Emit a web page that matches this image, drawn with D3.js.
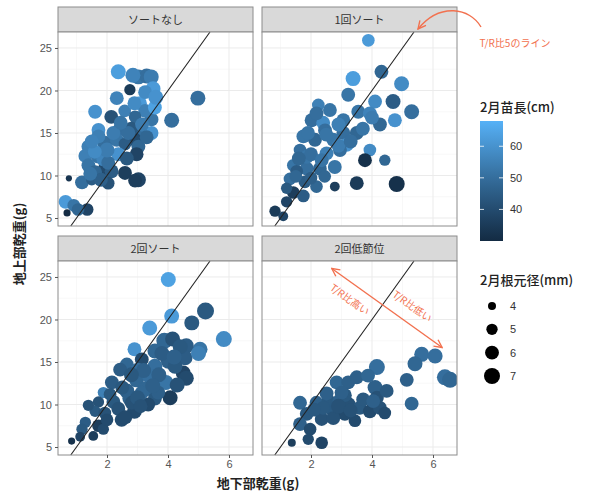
<!DOCTYPE html>
<html>
<head>
<meta charset="utf-8">
<script src="https://cdn.jsdelivr.net/npm/d3@7"></script>
<style>
  body { margin: 0; background: #fff; }
  svg { font-family: "Noto Sans CJK JP", "Noto Sans", sans-serif; }
</style>
</head>
<body>
<div id="chart"></div>
<script>
// facet names
const panelNames = ['ソートなし', '1回ソート', '2回ソート', '2回低節位'];

// [root dry weight (g), shoot dry weight (g), Feb seedling length (cm), Feb stem diameter (mm)]
const noSort = [
  [2.37, 22.2, 63, 6.5], [3.03, 21.6, 52, 6.5], [3.3, 21.7, 50, 6.5], [3.45, 21.6, 54, 6.5],
  [2.75, 20.1, 35, 5], [3.51, 20.2, 62, 6.5], [4.98, 19.1, 50, 6.5], [2.32, 19.1, 56, 6],
  [1.61, 17.5, 60, 6], [2.14, 16.9, 42, 6], [2.58, 17.6, 55, 5.5], [3.08, 18.5, 62, 6],
  [3.46, 16.6, 52, 6], [4.12, 16.5, 50, 6.5], [3.25, 17.6, 55, 6], [2.92, 16.9, 48, 5.5],
  [2.43, 15.5, 50, 6], [1.72, 15.35, 60, 6], [3.14, 15.35, 50, 6], [3.46, 15.0, 60, 6],
  [2.92, 14.2, 40, 6], [1.39, 13.4, 55, 6], [1.93, 13.8, 50, 6.5], [2.32, 14.2, 52, 6],
  [2.59, 13.7, 45, 5.5], [3.03, 13.4, 48, 6], [1.29, 12.3, 55, 6], [1.72, 12.3, 52, 6.5],
  [2.37, 12.5, 60, 6], [2.97, 12.5, 38, 6], [1.39, 11.2, 52, 6], [1.93, 10.8, 40, 6],
  [2.15, 10.5, 45, 6], [2.59, 10.3, 36, 6], [3.03, 9.5, 38, 6.5], [2.92, 9.4, 36, 6],
  [1.18, 9.2, 50, 6], [0.75, 9.67, 33, 3.6], [1.5, 9.5, 45, 5], [2.04, 9.1, 42, 5.5],
  [0.64, 6.9, 62, 6], [0.91, 6.5, 52, 5.5], [1.35, 6.0, 38, 5.5], [0.69, 5.6, 30, 3.8],
  [1.72, 14.6, 55, 6], [1.61, 10.4, 48, 6], [1.88, 11.9, 56, 6], [2.21, 15.0, 54, 6],
  [3.57, 18.0, 64, 6], [3.25, 19.8, 58, 6], [2.8, 15.5, 44, 6], [2.04, 11.5, 50, 6],
  [2.9, 18.5, 58, 6], [3.15, 16.0, 54, 6], [2.7, 15.0, 50, 6], [2.0, 13.0, 54, 6.5],
  [1.6, 12.8, 58, 6], [1.5, 14.0, 56, 6], [2.45, 16.2, 52, 6], [3.3, 14.5, 48, 6],
  [2.65, 12.0, 44, 6], [1.8, 9.5, 46, 6], [3.6, 19.2, 60, 6.5], [2.85, 21.8, 56, 6.5],
  [1.45, 10.2, 52, 6], [1.05, 6.0, 48, 5.5]
];

const sortOnce = [
  [3.88, 25.9, 62, 5.5], [4.31, 22.2, 48, 6], [3.38, 21.4, 63, 6.5], [4.97, 20.8, 58, 6.5],
  [3.22, 19.5, 52, 6], [4.1, 18.7, 58, 6], [4.69, 18.7, 45, 6.5], [5.3, 17.5, 50, 6.5],
  [2.24, 18.3, 55, 5.5], [2.62, 17.7, 52, 6], [3.55, 17.5, 52, 6], [3.93, 17.3, 56, 6],
  [4.75, 16.5, 60, 6], [4.26, 16.0, 48, 6], [2.02, 16.5, 50, 6], [2.4, 16.2, 58, 6],
  [3.06, 15.0, 50, 6], [3.5, 15.0, 48, 6], [1.75, 14.6, 52, 6], [2.13, 14.2, 48, 6],
  [2.73, 14.2, 52, 6], [3.17, 13.6, 60, 6], [1.64, 13.0, 50, 5.5], [2.51, 12.6, 55, 6],
  [3.93, 13.0, 58, 5.5], [3.77, 11.8, 32, 6], [4.42, 11.8, 48, 5], [1.42, 11.2, 52, 5.5],
  [1.86, 10.8, 50, 6], [2.29, 10.8, 48, 6], [2.78, 11.0, 52, 6], [1.31, 9.6, 50, 5.5],
  [1.8, 9.25, 45, 5.5], [2.18, 8.7, 48, 5.5], [2.78, 8.7, 36, 4.5], [3.5, 9.1, 35, 6],
  [4.81, 9.0, 32, 7], [1.42, 8.0, 36, 5.5], [1.75, 7.6, 45, 5.5], [1.2, 6.9, 38, 5],
  [0.82, 5.8, 35, 5], [1.09, 5.2, 38, 4.5], [1.86, 12.2, 52, 6], [2.95, 13.0, 50, 6],
  [2.18, 17.3, 50, 6], [1.53, 10.5, 45, 5.5], [3.06, 16.5, 52, 6], [2.46, 15.3, 50, 6],
  [2.5, 14.8, 52, 6], [2.9, 13.5, 54, 6], [3.3, 14.0, 50, 6], [2.0, 12.5, 50, 6],
  [2.35, 11.8, 52, 6], [1.6, 12.0, 48, 6], [3.7, 15.5, 52, 6], [4.0, 16.8, 54, 6],
  [2.9, 16.0, 55, 6], [1.9, 15.0, 52, 6], [1.5, 9.9, 48, 5.5], [2.0, 9.7, 46, 5.5],
  [2.45, 9.9, 48, 5.5], [1.2, 8.5, 44, 5]
];

const sortTwice = [
  [4.01, 24.7, 64, 6.5], [5.23, 21.0, 44, 7.5], [4.12, 20.4, 62, 6.5], [4.78, 19.6, 44, 6.5],
  [3.4, 19.0, 62, 6.5], [5.83, 17.7, 58, 7], [2.9, 16.5, 60, 6], [3.88, 17.5, 48, 7],
  [4.15, 17.7, 42, 6.5], [5.05, 16.5, 52, 6.5], [4.6, 16.9, 45, 6.5], [3.57, 16.3, 48, 6.5],
  [3.14, 15.3, 40, 6], [2.65, 14.7, 48, 6], [3.57, 14.5, 50, 6.5], [4.01, 15.1, 46, 6.5],
  [4.56, 15.5, 45, 6.5], [5.0, 16.0, 55, 6.5], [4.5, 13.7, 38, 6.5], [2.43, 14.1, 45, 6],
  [2.97, 12.9, 48, 6.5], [3.4, 13.3, 50, 6.5], [3.93, 12.6, 52, 6.5], [4.6, 13.1, 40, 6.5],
  [2.16, 12.6, 45, 6], [2.65, 11.6, 46, 6.5], [3.25, 11.8, 48, 6.5], [4.07, 10.8, 36, 6.5],
  [1.88, 11.4, 55, 5], [1.72, 10.3, 42, 5], [2.21, 10.3, 44, 6], [2.75, 10.7, 46, 6.5],
  [3.57, 10.7, 44, 6], [2.37, 9.5, 42, 6], [2.9, 9.2, 40, 6.5], [1.61, 9.2, 44, 5],
  [1.93, 9.0, 42, 5.5], [3.35, 10.0, 40, 6], [1.29, 7.9, 45, 5], [1.72, 7.5, 36, 5.5],
  [1.18, 7.1, 44, 5], [1.88, 7.1, 40, 5], [2.48, 8.2, 40, 6], [1.12, 6.2, 38, 4.5],
  [0.84, 5.7, 32, 3.8], [2.81, 10.2, 42, 6], [3.14, 11.4, 48, 6], [3.68, 11.4, 46, 6],
  [3.0, 14.1, 50, 6], [4.23, 14.5, 44, 6.5], [1.39, 9.9, 42, 5], [1.55, 6.3, 36, 4.5],
  [3.7, 13.5, 46, 6.5], [3.2, 14.0, 46, 6.5], [2.8, 13.5, 44, 6.5], [3.5, 12.2, 46, 6.5],
  [4.3, 12.3, 42, 6.5], [2.5, 12.0, 44, 6], [3.0, 10.8, 44, 6.5], [4.4, 16.8, 44, 6.5],
  [3.8, 16.0, 45, 6.5], [2.1, 11.2, 44, 5.5], [2.6, 8.5, 40, 6], [3.1, 9.8, 42, 6],
  [2.0, 8.2, 40, 5.5], [4.2, 15.6, 46, 6.5]
];

const lowNode = [
  [5.63, 15.9, 50, 6.5], [6.07, 15.7, 50, 6.5], [5.41, 14.8, 48, 6.5], [6.39, 13.2, 50, 7],
  [6.56, 12.9, 48, 7], [5.14, 12.9, 46, 6], [4.16, 14.4, 50, 7], [5.3, 10.1, 48, 6],
  [2.84, 12.6, 48, 6], [3.22, 12.6, 46, 6], [3.5, 13.2, 46, 6], [3.87, 13.4, 48, 6],
  [4.1, 12.0, 46, 6.5], [4.16, 10.8, 42, 6], [1.64, 10.2, 48, 6], [2.18, 10.2, 46, 6],
  [2.57, 10.4, 44, 6], [2.95, 10.4, 46, 6.5], [3.22, 10.0, 42, 6.5], [3.6, 9.6, 44, 6],
  [3.93, 9.2, 40, 6], [4.26, 9.6, 42, 6], [4.42, 9.0, 40, 5.5], [1.86, 8.9, 44, 6],
  [2.35, 8.3, 42, 6], [2.73, 9.2, 44, 6], [3.11, 8.9, 40, 6], [3.44, 8.1, 40, 5.5],
  [1.64, 7.7, 46, 6], [1.97, 7.1, 40, 5.5], [2.35, 5.5, 38, 5.5], [1.91, 5.9, 40, 5],
  [1.37, 5.5, 36, 4], [2.73, 8.4, 42, 6], [3.71, 10.6, 44, 6], [4.04, 10.4, 46, 6],
  [3.11, 11.1, 44, 6], [2.51, 11.3, 46, 6], [4.48, 11.6, 44, 6],
  [3.0, 11.4, 46, 6], [2.9, 9.8, 42, 6.5], [2.4, 9.6, 44, 6], [3.3, 9.3, 42, 6],
  [2.1, 9.4, 44, 6]
];

const xTicks = [2, 4, 6];
const yTicks = [5, 10, 15, 20, 25];
const colorTicks = [40, 50, 60];
const sizeTicks = [4, 5, 6, 7];
const trRatio = 5; // T/R = 5 reference line

const panelData = [noSort, sortOnce, sortTwice, lowNode];

const width = 601, height = 496;
const panelW = 195, panelH = 194, stripH = 25;
const panelX = [58, 262];
const panelY = [32, 261];

const svg = d3.select('#chart').append('svg')
  .attr('width', width)
  .attr('height', height);

const x = d3.scaleLinear().domain([0.393, 6.787]).range([0, panelW]);
const y = d3.scaleLinear().domain([4.06, 26.88]).range([panelH, 0]);
const color = d3.scaleLinear().domain([30, 68]).range(['#132B43', '#56B1F7']).interpolate(d3.interpolateLab);
const r = d3.scaleRadial().domain([3, 7]).range([0, 8]);

const orange = '#f2714f';

svg.append('defs').append('marker')
  .attr('id', 'arrowhead')
  .attr('viewBox', '0 0 10 10')
  .attr('refX', 9).attr('refY', 5)
  .attr('markerWidth', 7).attr('markerHeight', 7)
  .attr('orient', 'auto-start-reverse')
  .append('path')
  .attr('d', 'M1,1 L9,5 L1,9')
  .attr('fill', 'none')
  .attr('stroke', orange)
  .attr('stroke-width', 1.4);

panelData.forEach((data, i) => {
  const col = i % 2, row = Math.floor(i / 2);
  const g = svg.append('g')
    .attr('transform', `translate(${panelX[col]}, ${panelY[row]})`);

  // strip
  g.append('rect')
    .attr('x', 0).attr('y', -stripH)
    .attr('width', panelW).attr('height', stripH)
    .attr('fill', '#d9d9d9')
    .attr('stroke', '#8c8c8c');
  g.append('text')
    .attr('x', panelW / 2).attr('y', -stripH / 2 + 4)
    .attr('text-anchor', 'middle')
    .attr('font-size', 11)
    .attr('fill', '#333')
    .text(panelNames[i]);

  // background + grid
  g.append('rect')
    .attr('width', panelW).attr('height', panelH)
    .attr('fill', '#fff');
  const minorX = [1, 3, 5], minorY = [7.5, 12.5, 17.5, 22.5];
  g.selectAll('.minor-x').data(minorX).enter().append('line')
    .attr('x1', d => x(d)).attr('x2', d => x(d))
    .attr('y1', 0).attr('y2', panelH)
    .attr('stroke', '#f4f4f4').attr('stroke-width', 0.6);
  g.selectAll('.minor-y').data(minorY).enter().append('line')
    .attr('y1', d => y(d)).attr('y2', d => y(d))
    .attr('x1', 0).attr('x2', panelW)
    .attr('stroke', '#f4f4f4').attr('stroke-width', 0.6);
  g.selectAll('.grid-x').data(xTicks).enter().append('line')
    .attr('x1', d => x(d)).attr('x2', d => x(d))
    .attr('y1', 0).attr('y2', panelH)
    .attr('stroke', '#ebebeb').attr('stroke-width', 1);
  g.selectAll('.grid-y').data(yTicks).enter().append('line')
    .attr('y1', d => y(d)).attr('y2', d => y(d))
    .attr('x1', 0).attr('x2', panelW)
    .attr('stroke', '#ebebeb').attr('stroke-width', 1);

  // points
  const clipId = `clip${i}`;
  g.append('clipPath').attr('id', clipId)
    .append('rect').attr('width', panelW).attr('height', panelH);
  g.append('g').attr('clip-path', `url(#${clipId})`)
    .selectAll('circle')
    .data(data)
    .enter()
    .append('circle')
    .attr('cx', d => x(d[0]))
    .attr('cy', d => y(d[1]))
    .attr('r', d => r(d[3]))
    .attr('fill', d => color(d[2]));

  // T/R = 5 line
  const y0 = y.domain()[0], y1 = y.domain()[1];
  g.append('line')
    .attr('x1', x(y0 / trRatio)).attr('y1', y(y0))
    .attr('x2', x(y1 / trRatio)).attr('y2', y(y1))
    .attr('stroke', '#222').attr('stroke-width', 1.1);

  // border
  g.append('rect')
    .attr('width', panelW).attr('height', panelH)
    .attr('fill', 'none')
    .attr('stroke', '#8c8c8c');

  if (col === 0) {
    const ay = g.append('g').call(d3.axisLeft(y).tickValues(yTicks).tickFormat(d3.format('d')).tickSize(3).tickPadding(3));
    ay.select('.domain').remove();
    ay.selectAll('line').attr('stroke', '#555');
    ay.selectAll('text').attr('font-size', 11).attr('fill', '#555')
      .attr('font-family', '"Liberation Sans", sans-serif');
  }
  if (row === 1) {
    const ax = g.append('g').attr('transform', `translate(0, ${panelH})`)
      .call(d3.axisBottom(x).tickValues(xTicks).tickFormat(d3.format('d')).tickSize(3).tickPadding(2));
    ax.select('.domain').remove();
    ax.selectAll('line').attr('stroke', '#555');
    ax.selectAll('text').attr('font-size', 11).attr('fill', '#555')
      .attr('font-family', '"Liberation Sans", sans-serif');
  }

  // annotation on last panel
  if (i === 3) {
    const p1 = [x(2.68), y(26.0)], p2 = [x(6.3), y(16.7)];
    g.append('line')
      .attr('x1', p1[0]).attr('y1', p1[1])
      .attr('x2', p2[0]).attr('y2', p2[1])
      .attr('stroke', orange).attr('stroke-width', 1.4)
      .attr('marker-start', 'url(#arrowhead)')
      .attr('marker-end', 'url(#arrowhead)');
    const ang = Math.atan2(p2[1] - p1[1], p2[0] - p1[0]) * 180 / Math.PI;
    g.append('text')
      .attr('transform', `translate(${x(3.2)}, ${y(22.0)}) rotate(${ang})`)
      .attr('text-anchor', 'middle')
      .attr('font-size', 10).attr('fill', orange)
      .text('T/R比高い');
    g.append('text')
      .attr('transform', `translate(${x(5.25)}, ${y(21.2)}) rotate(${ang})`)
      .attr('text-anchor', 'middle')
      .attr('font-size', 10).attr('fill', orange)
      .text('T/R比低い');
  }
});

// curved arrow pointing at the line in panel 2
svg.append('path')
  .attr('d', 'M481,27 C470,8 440,2 418,29')
  .attr('fill', 'none')
  .attr('stroke', orange)
  .attr('stroke-width', 1.4)
  .attr('marker-end', 'url(#arrowhead)');
svg.append('text')
  .attr('x', 515).attr('y', 47)
  .attr('text-anchor', 'middle')
  .attr('font-size', 10).attr('fill', orange)
  .text('T/R比5のライン');

// axis titles
svg.append('text')
  .attr('x', 258).attr('y', 488)
  .attr('text-anchor', 'middle')
  .attr('font-size', 13).attr('font-weight', 'bold').attr('fill', '#222')
  .text('地下部乾重(g)');
svg.append('text')
  .attr('transform', 'translate(24, 244) rotate(-90)')
  .attr('text-anchor', 'middle')
  .attr('font-size', 13).attr('font-weight', 'bold').attr('fill', '#222')
  .text('地上部乾重(g)');

// colour legend
const legX = 480;
svg.append('text')
  .attr('x', legX).attr('y', 112)
  .attr('font-size', 13).attr('font-weight', 500).attr('fill', '#222')
  .text('2月苗長(cm)');
const cbTop = 121, cbH = 120, cbW = 23;
const cy = d3.scaleLinear().domain([30, 68]).range([cbTop + cbH, cbTop]);
const grad = svg.select('defs').append('linearGradient')
  .attr('id', 'cgrad').attr('x1', 0).attr('x2', 0).attr('y1', 1).attr('y2', 0);
d3.range(0, 1.0001, 0.1).forEach(t => {
  const v = 30 + t * 38;
  grad.append('stop').attr('offset', t).attr('stop-color', color(v));
});
svg.append('rect')
  .attr('x', legX).attr('y', cbTop)
  .attr('width', cbW).attr('height', cbH)
  .attr('fill', 'url(#cgrad)');
colorTicks.forEach(t => {
  svg.append('line')
    .attr('x1', legX).attr('x2', legX + 4)
    .attr('y1', cy(t)).attr('y2', cy(t))
    .attr('stroke', '#fff').attr('stroke-width', 0.8);
  svg.append('line')
    .attr('x1', legX + cbW - 4).attr('x2', legX + cbW)
    .attr('y1', cy(t)).attr('y2', cy(t))
    .attr('stroke', '#fff').attr('stroke-width', 0.8);
});
svg.selectAll('.ctick').data(colorTicks).enter().append('text')
  .attr('x', legX + cbW + 7)
  .attr('y', d => cy(d) + 4)
  .attr('font-size', 11).attr('fill', '#333')
  .attr('font-family', '"Liberation Sans", sans-serif')
  .text(d => d);

// size legend
svg.append('text')
  .attr('x', legX).attr('y', 285)
  .attr('font-size', 13).attr('font-weight', 500).attr('fill', '#222')
  .text('2月根元径(mm)');
const sy = d3.scalePoint().domain(sizeTicks).range([306, 376]);
svg.selectAll('.sdot').data(sizeTicks).enter().append('circle')
  .attr('cx', legX + 12)
  .attr('cy', d => sy(d))
  .attr('r', d => r(d))
  .attr('fill', '#000');
svg.selectAll('.slab').data(sizeTicks).enter().append('text')
  .attr('x', legX + cbW + 7)
  .attr('y', d => sy(d) + 4)
  .attr('font-size', 11).attr('fill', '#333')
  .attr('font-family', '"Liberation Sans", sans-serif')
  .text(d => d);
</script>
</body>
</html>
